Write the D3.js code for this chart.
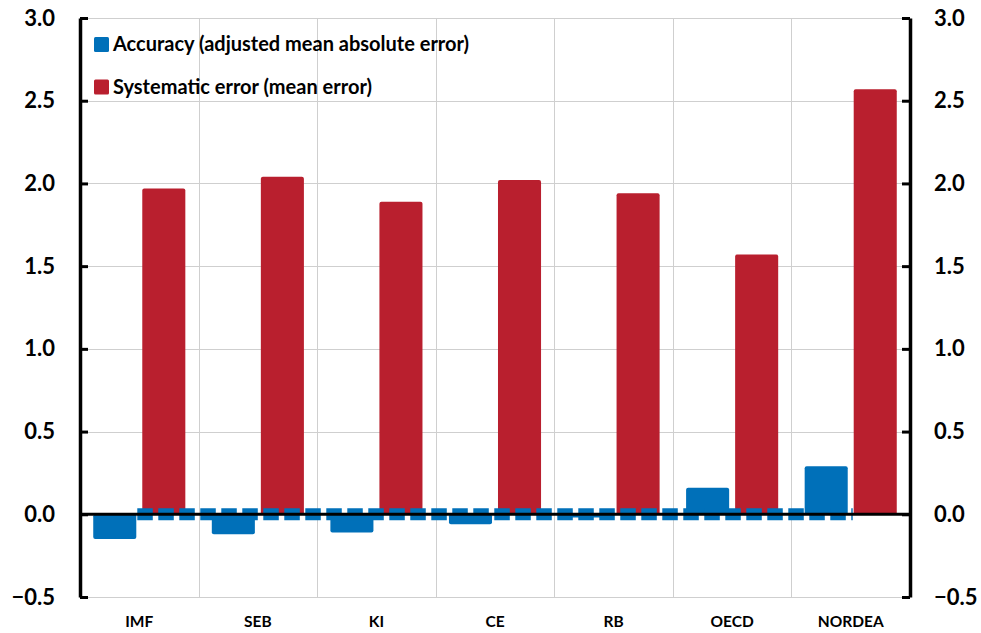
<!DOCTYPE html>
<html>
<head>
<meta charset="utf-8">
<script src="https://cdn.jsdelivr.net/npm/d3@7"></script>
<style>
  html, body { margin: 0; padding: 0; background: #fff; }
  svg { display: block; }
  text { font-family: Lato, "Open Sans", sans-serif; font-weight: bold; fill: #000; }
</style>
</head>
<body>
<svg id="chart" width="981" height="633"></svg>
<script>
// Forecasters
const categories = ["IMF", "SEB", "KI", "CE", "RB", "OECD", "NORDEA"];
// Accuracy (adjusted mean absolute error)
const accuracy = [-0.15, -0.12, -0.11, -0.06, -0.02, 0.16, 0.29];
// Systematic error (mean error)
const systematic = [1.97, 2.04, 1.89, 2.02, 1.94, 1.57, 2.57];
// Reference level drawn as a dashed line
const reference = [0, 0, 0, 0, 0, 0, 0];
const yTicks = [-0.5, 0, 0.5, 1.0, 1.5, 2.0, 2.5, 3.0];
const seriesNames = ["Accuracy (adjusted mean absolute error)", "Systematic error (mean error)"];
const seriesColors = ["#0070b9", "#b91f2e"];

const svg = d3.select("#chart");
const plotLeft = 80, plotRight = 910, plotTop = 18, plotBottom = 597;

const x = d3.scaleBand().domain(categories).range([plotLeft, plotRight]).padding(0);
const xs = d3.scaleBand().domain([0, 1]).range([0, x.bandwidth()])
  .paddingInner(0.122).paddingOuter(0.27);
const y = d3.scaleLinear().domain([-0.5, 3.0]).range([plotBottom, plotTop]);

// grid
const grid = svg.append("g").attr("stroke", "#cfcfcf").attr("stroke-width", 1);
grid.selectAll("line.h").data(yTicks).join("line").attr("class", "h")
  .attr("x1", plotLeft).attr("x2", plotRight)
  .attr("y1", d => Math.round(y(d)) + 0.5).attr("y2", d => Math.round(y(d)) + 0.5);
grid.selectAll("line.v").data(categories.slice(1)).join("line").attr("class", "v")
  .attr("y1", plotTop).attr("y2", plotBottom)
  .attr("x1", d => Math.round(x(d)) + 0.5).attr("x2", d => Math.round(x(d)) + 0.5);

// bars
const rows = categories.map((c, i) => ({ c, v: [accuracy[i], systematic[i]] }));
const groups = svg.append("g").selectAll("g").data(rows).join("g")
  .attr("transform", d => `translate(${x(d.c)},0)`);
groups.selectAll("rect").data(d => d.v.map((v, k) => ({ v, k }))).join("rect")
  .attr("x", d => xs(d.k))
  .attr("width", xs.bandwidth())
  .attr("y", d => y(Math.max(0, d.v)))
  .attr("height", d => Math.abs(y(d.v) - y(0)))
  .attr("rx", 2)
  .attr("fill", d => seriesColors[d.k]);

// dashed reference line
const cx = c => x(c) + x.bandwidth() / 2;
const line = d3.line().x(d => d[0]).y(d => y(d[1]));
const pts = categories.map((c, i) => [cx(c), reference[i]]);
pts[0][0] -= 2;
pts[pts.length - 1][0] += 2;
svg.append("path")
  .attr("d", line(pts))
  .attr("fill", "none")
  .attr("stroke", seriesColors[0])
  .attr("stroke-width", 12)
  .attr("stroke-linecap", "butt")
  .attr("stroke-dasharray", "15.5 5.5");

// zero line
svg.append("line")
  .attr("x1", plotLeft).attr("x2", plotRight)
  .attr("y1", y(0)).attr("y2", y(0))
  .attr("stroke", "#000").attr("stroke-width", 3);

// axes
const axisL = d3.axisLeft(y).tickValues(yTicks).tickFormat(d3.format(".1f"))
  .tickSizeInner(-8).tickSizeOuter(0).tickPadding(25);
const axisR = d3.axisRight(y).tickValues(yTicks).tickFormat(d3.format(".1f"))
  .tickSizeInner(-8).tickSizeOuter(0).tickPadding(24);
function styleAxis(g) {
  g.select(".domain").attr("stroke", "#000").attr("stroke-width", 3.5);
  g.selectAll(".tick line").attr("stroke", "#000").attr("stroke-width", 3);
  g.selectAll(".tick text").style("font-size", "22px").attr("fill", "#000");
}
svg.append("g").attr("transform", `translate(${plotLeft},0)`).call(axisL).call(styleAxis);
svg.append("g").attr("transform", `translate(${plotRight},0)`).call(axisR).call(styleAxis);

// category labels
svg.append("g").selectAll("text").data(categories).join("text")
  .attr("x", d => cx(d)).attr("y", 627)
  .attr("text-anchor", "middle")
  .style("font-size", "15.5px")
  .text(d => d);

// legend
const legend = svg.append("g").selectAll("g").data(seriesNames).join("g")
  .attr("transform", (d, i) => `translate(94,${37 + i * 42.5})`);
legend.append("rect").attr("width", 15).attr("height", 15).attr("rx", 1.5)
  .attr("fill", (d, i) => seriesColors[i]);
legend.append("text").attr("x", 19).attr("y", 14)
  .style("font-size", "20px").text(d => d);
</script>
</body>
</html>
